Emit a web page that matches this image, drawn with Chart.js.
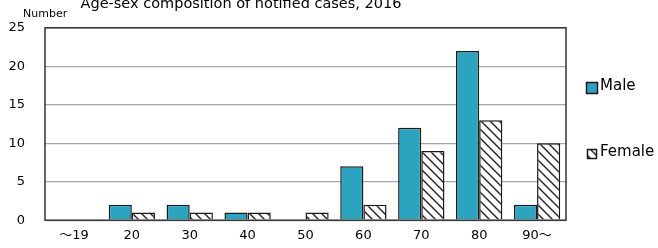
<!DOCTYPE html>
<html>
<head>
<meta charset="utf-8">
<script src="https://cdn.jsdelivr.net/npm/chart.js@4"></script>
<style>
  html, body { margin: 0; padding: 0; background: #fff; }
  #wrap { width: 658px; height: 248px; }
</style>
</head>
<body>
<div id="wrap"><canvas id="myChart" width="658" height="248"></canvas></div>
<script>
const labels = ['〜19', '20', '30', '40', '50', '60', '70', '80', '90〜'];
const MaleData = [0, 2, 2, 1, 0, 7, 12, 22, 2];
const FemaleData = [0, 1, 1, 1, 1, 2, 9, 13, 10];
const yTicks = [0, 5, 10, 15, 20, 25];

const chartTitle = 'Age-sex composition of notified cases, 2016';
const yTitle = 'Number';

const FONT = "'DejaVu Sans', Verdana, 'Noto Sans CJK JP', sans-serif";

// diagonal hatch for the female bars
function makeHatch() {
  const c = document.createElement('canvas');
  c.width = 9;
  c.height = 9;
  const g = c.getContext('2d');
  g.fillStyle = '#fff';
  g.fillRect(0, 0, 9, 9);
  g.strokeStyle = '#222';
  g.lineWidth = 1.4;
  g.beginPath();
  g.moveTo(-1, -1); g.lineTo(10, 10);
  g.moveTo(-1, 8); g.lineTo(1, 10);
  g.moveTo(8, -1); g.lineTo(10, 1);
  g.stroke();
  return g.createPattern(c, 'repeat');
}
const hatch = makeHatch();

const data = {
  labels: labels,
  datasets: [
    {
      label: 'Male',
      data: MaleData,
      backgroundColor: '#2ca3bf',
      borderColor: '#1a1a1a',
      borderWidth: 1.5,
      categoryPercentage: 0.8,
      barPercentage: 1.0
    },
    {
      label: 'Female',
      data: FemaleData,
      backgroundColor: hatch,
      borderColor: '#1a1a1a',
      borderWidth: 1.5,
      categoryPercentage: 0.8,
      barPercentage: 1.0
    }
  ]
};

// frame, title, axis caption and legend drawn by hand
const extras = {
  id: 'extras',
  afterDatasetsDraw(chart) {
    const ctx = chart.ctx;
    const a = chart.chartArea;
    ctx.save();
    ctx.strokeStyle = '#333';
    ctx.lineWidth = 1.5;
    ctx.strokeRect(a.left, a.top, a.right - a.left, a.bottom - a.top);

    ctx.fillStyle = '#000';
    ctx.textAlign = 'center';
    ctx.textBaseline = 'alphabetic';
    ctx.font = '14.5px ' + FONT;
    ctx.fillText(chartTitle, 241, 8);

    ctx.font = '11px ' + FONT;
    ctx.textAlign = 'left';
    ctx.fillText(yTitle, 23, 17);

    // legend
    const items = [
      { ds: chart.data.datasets[0], y: 88, size: 11 },
      { ds: chart.data.datasets[1], y: 154, size: 9 }
    ];
    ctx.font = '15px ' + FONT;
    ctx.textBaseline = 'middle';
    items.forEach((it) => {
      const s = it.size;
      const bx = 592 - s / 2;
      const by = it.y - s / 2;
      ctx.fillStyle = it.ds.backgroundColor;
      ctx.fillRect(bx, by, s, s);
      ctx.strokeStyle = '#1a1a1a';
      ctx.lineWidth = 1.5;
      ctx.strokeRect(bx, by, s, s);
      ctx.fillStyle = '#000';
      ctx.fillText(it.ds.label, 600, it.y - 2);
    });
    ctx.restore();
  }
};

const config = {
  type: 'bar',
  data: data,
  options: {
    responsive: false,
    animation: false,
    layout: {
      padding: { left: 0, top: 24, right: 92, bottom: 0 }
    },
    plugins: {
      legend: { display: false },
      title: { display: false },
      tooltip: { enabled: false }
    },
    scales: {
      x: {
        grid: { display: false, drawTicks: false },
        border: { display: false },
        ticks: {
          color: '#000',
          font: { family: FONT, size: 13 },
          padding: 8,
          maxRotation: 0
        },
        afterFit(scale) { scale.height = 27; }
      },
      y: {
        min: 0,
        max: 25,
        afterBuildTicks(scale) {
          scale.ticks = yTicks.map((v) => ({ value: v }));
        },
        grid: { color: '#a6a6a6', lineWidth: 1.2, drawTicks: false },
        border: { display: false },
        ticks: {
          color: '#000',
          font: { family: FONT, size: 13 },
          padding: 20
        },
        afterFit(scale) { scale.width = 45; }
      }
    }
  },
  plugins: [extras]
};

const ctx = document.getElementById('myChart').getContext('2d');
const myChart = new Chart(ctx, config);
</script>
</body>
</html>
